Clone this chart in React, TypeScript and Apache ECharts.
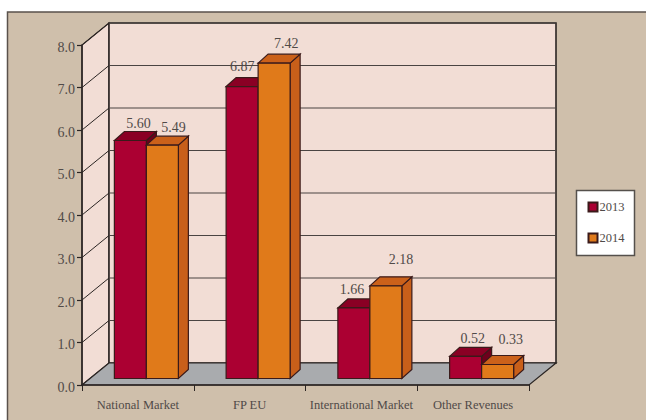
import React, { useEffect, useRef } from "react";
import * as echarts from "echarts";

const categories = ["National Market", "FP EU", "International Market", "Other Revenues"];
const values2013 = [5.6, 6.87, 1.66, 0.52];
const values2014 = [5.49, 7.42, 2.18, 0.33];
const yTicks = [0, 1, 2, 3, 4, 5, 6, 7, 8];
const seriesNames = ["2013", "2014"];

// Layout (not data)
const WALL_DX = 27;
const WALL_DY = -22;
const BAR_SHIFT_X = 8.5;
const BAR_SHIFT_Y = -6.5;
const BAR_W = 32;
const BAR_DX = 10;
const BAR_DY = -9;
const labelNudge2013 = [[8, -17], [0, -20], [-2, -18], [7, -18]];
const labelNudge2014 = [[11, -18], [12, -20], [15, -26], [13, -25]];
const FONT = "'Liberation Serif', serif";
const TEXT = "#504a48";
const INK = "#2b2523";

const palette = [
  { front: "#ab0032", top: "#8a0024", side: "#6e001c", nudge: labelNudge2013, off: -1 },
  { front: "#e07a1a", top: "#cb611a", side: "#c85f1a", nudge: labelNudge2014, off: 0 },
];

function barRender(s: number) {
  const p = palette[s];
  return (params: any, api: any) => {
    const cat = api.value(0);
    const val = api.value(1);
    const top = api.coord([cat, val]);
    const base = api.coord([cat, 0]);
    const x = top[0] + BAR_SHIFT_X + p.off * BAR_W;
    const yt = top[1] + BAR_SHIFT_Y;
    const yb = base[1] + BAR_SHIFT_Y;
    const line = { stroke: "#3a1a1a", lineWidth: 1.2 };
    const xr = x + BAR_W;
    const n = p.nudge[params.dataIndex];
    return {
      type: "group",
      children: [
        { type: "polygon", shape: { points: [[xr, yt], [xr + BAR_DX, yt + BAR_DY], [xr + BAR_DX, yb + BAR_DY], [xr, yb]] }, style: { fill: p.side, ...line } },
        { type: "polygon", shape: { points: [[x, yt], [x + BAR_DX, yt + BAR_DY], [xr + BAR_DX, yt + BAR_DY], [xr, yt]] }, style: { fill: p.top, ...line } },
        { type: "rect", shape: { x, y: yt, width: BAR_W, height: yb - yt }, style: { fill: p.front, ...line } },
        {
          type: "text",
          x: x + BAR_W / 2 + n[0],
          y: yt + n[1],
          style: { text: val.toFixed(2), fill: TEXT, font: `14px ${FONT}`, align: "center", verticalAlign: "middle" },
        },
      ],
    };
  };
}

function wallRender(_params: any, api: any) {
  const a = api.coord([0, 0]);
  const b = api.coord([0, 8]);
  const size = api.size([1, 0]);
  const x0 = a[0] - size[0] / 2;
  const x1 = x0 + size[0] * categories.length;
  const y0 = a[1];
  const y1 = b[1];
  const border = { stroke: INK, lineWidth: 1.6 };
  return {
    type: "group",
    children: [
      { type: "polygon", shape: { points: [[x0, y0], [x0 + WALL_DX, y0 + WALL_DY], [x0 + WALL_DX, y1 + WALL_DY], [x0, y1]] }, style: { fill: "#f2ddd5", stroke: INK, lineWidth: 1.2 } },
      { type: "rect", shape: { x: x0 + WALL_DX, y: y1 + WALL_DY, width: x1 - x0, height: y0 - y1 }, style: { fill: "#f2ddd5", ...border } },
      { type: "polygon", shape: { points: [[x0, y0], [x0 + WALL_DX, y0 + WALL_DY], [x1 + WALL_DX, y0 + WALL_DY], [x1, y0]] }, style: { fill: "#a9abae", stroke: INK, lineWidth: 1.2 } },
    ],
  };
}

function gridRender(_params: any, api: any) {
  const p = api.coord([0, api.value(1)]);
  const size = api.size([1, 0]);
  const x0 = p[0] - size[0] / 2;
  const x1 = x0 + size[0] * categories.length;
  const y = p[1];
  return {
    type: "group",
    children: [
      { type: "line", shape: { x1: x0, y1: y, x2: x0 + WALL_DX, y2: y + WALL_DY }, style: { stroke: INK, lineWidth: 1 } },
      { type: "line", shape: { x1: x0 + WALL_DX, y1: y + WALL_DY, x2: x1 + WALL_DX, y2: y + WALL_DY }, style: { stroke: "#4a4442", lineWidth: 1.2 } },
    ],
  };
}

export default function App() {
  const ref = useRef<HTMLDivElement>(null);
  useEffect(() => {
    const chart = echarts.init(ref.current!, null, { renderer: "svg" });
    const toData = (arr: number[]) => arr.map((v, i) => [i, v]);
    chart.setOption({
      animation: false,
      backgroundColor: "#ffffff",
      graphic: [
        { type: "rect", z: -1, shape: { x: 7.5, y: 12, width: 640, height: 410 }, style: { fill: "#cfbfab", stroke: "#5a524c", lineWidth: 1.5 } },
      ],
      grid: { left: 82, top: 45, width: 447, height: 340, containLabel: false },
      xAxis: {
        type: "category",
        data: categories,
        axisLine: { lineStyle: { color: INK, width: 1.5 } },
        axisTick: { show: true, length: 6, alignWithLabel: false, lineStyle: { color: INK, width: 1 } },
        axisLabel: { color: TEXT, fontFamily: FONT, fontSize: 12.5, margin: 13, interval: 0 },
        z: 10,
      },
      yAxis: {
        type: "value",
        min: 0,
        max: 8,
        interval: 1,
        axisLine: { show: true, lineStyle: { color: INK, width: 1.5 } },
        axisTick: { show: true, length: 5, lineStyle: { color: INK, width: 1.2 } },
        splitLine: { show: false },
        axisLabel: {
          margin: 7,
          formatter: (v: number) => `{v|${v.toFixed(1)}}`,
          rich: { v: { color: TEXT, fontFamily: FONT, fontSize: 14, padding: [4, 0, 0, 0] } },
        },
        z: 10,
      },
      legend: {
        data: seriesNames.map((name) => ({ name, icon: "rect" })),
        orient: "vertical",
        left: 576.5,
        top: 190.5,
        padding: [10, 10, 11, 11],
        itemWidth: 9,
        itemHeight: 9,
        itemGap: 18,
        backgroundColor: "#ffffff",
        borderColor: "#55504c",
        borderWidth: 1.5,
        textStyle: { color: TEXT, fontFamily: FONT, fontSize: 12.5, padding: [0, 0, 0, -3] },
      },
      series: [
        { type: "custom", name: "walls", data: [[0, 0]], renderItem: wallRender, encode: { x: 0, y: 1 }, silent: true, z: 1, clip: false },
        { type: "custom", name: "gridlines", data: yTicks.slice(1).map((t) => [0, t]), renderItem: gridRender, encode: { x: 0, y: 1 }, silent: true, z: 2, clip: false },
        { type: "custom", name: seriesNames[0], data: toData(values2013), renderItem: barRender(0), encode: { x: 0, y: 1 }, z: 3, clip: false, itemStyle: { color: palette[0].front, borderColor: "#3a1a1a", borderWidth: 1 } },
        { type: "custom", name: seriesNames[1], data: toData(values2014), renderItem: barRender(1), encode: { x: 0, y: 1 }, z: 4, clip: false, itemStyle: { color: palette[1].front, borderColor: "#3a1a1a", borderWidth: 1 } },
      ],
    });
    return () => chart.dispose();
  }, []);
  return <div ref={ref} style={{ position: "absolute", left: 0, top: 0, width: 646, height: 420 }} />;
}
